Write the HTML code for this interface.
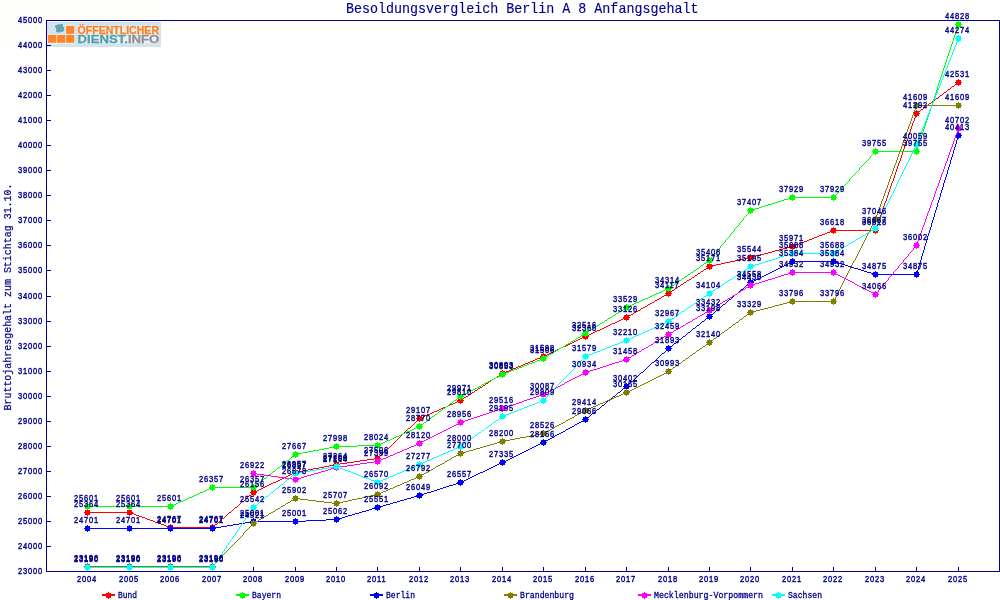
<!DOCTYPE html>
<html lang="de"><head><meta charset="utf-8"><title>Besoldungsvergleich Berlin A 8 Anfangsgehalt</title><style>
html,body{margin:0;padding:0;background:#fff;}
body{width:1000px;height:600px;overflow:hidden;}
svg{display:block;}
text{font-family:"Liberation Mono","DejaVu Sans Mono",monospace;fill:#00008b;}
.n{font-family:"Liberation Sans","DejaVu Sans",sans-serif;font-size:8.7px;letter-spacing:0.975px;stroke:#00008b;stroke-width:.42px;}
.l{font-size:8.9px;stroke:#00008b;stroke-width:.3px;}
.ti{font-size:15px;stroke:#00008b;stroke-width:.15px;}
.yt{font-size:11.5px;stroke:#00008b;stroke-width:.25px;}
.lg{font-family:"Liberation Sans","DejaVu Sans",sans-serif;font-weight:bold;font-size:10.7px;stroke-width:.25px;}
</style></head><body>
<svg width="1000" height="600" viewBox="0 0 1000 600">
<rect width="1000" height="600" fill="#fff"/>
<rect x="0" y="0" width="161" height="47" fill="#fdfdfb"/>
<text id="title" x="346" y="13" class="ti" textLength="352.5" lengthAdjust="spacingAndGlyphs">Besoldungsvergleich Berlin A 8 Anfangsgehalt</text>
<text id="ytitle" transform="translate(11.2,410.5) rotate(-90)" class="yt" textLength="227" lengthAdjust="spacingAndGlyphs">Bruttojahresgehalt zum Stichtag 31.10.</text>
<g id="logo">
<rect x="47" y="22" width="114" height="25" fill="#d5e3eb"/>
<path d="M65.4 25.4h9.6v18.8h-27.6v-9.8h18z" fill="#eaf2f7"/>
<rect x="48.1" y="35" width="8.2" height="7.8" fill="#ff8427"/>
<rect x="57.1" y="35" width="8.2" height="7.8" fill="#ff8427"/>
<rect x="66.1" y="35" width="8.2" height="7.8" fill="#ff8427"/>
<rect x="66.1" y="26" width="8.2" height="7.8" fill="#ff8427"/>
<path d="M55.1 25.2 L58.7 24.3 L62 24 L62.6 23.3 L63.2 26.7 L64.1 27.3 L64.4 30.9 L63.2 31.5 L59.9 32.6 L56.9 32.6 L56 31.2 L56 27.9 L55 27.3z" fill="#62a8b4" stroke="#eef5f8" stroke-width="0.7" paint-order="stroke"/>
<g aria-hidden="true" style="fill:none;stroke:#e9f1f6;stroke-width:1.8px;stroke-linejoin:round"><path d="M78 27.5h80M78 30h80M78 32.5h80M78 37h80M78 39.5h80M78 42h80" stroke-width="2.6"/></g>
<text x="77.6" y="33.8" class="lg" style="fill:#ff7f1f;stroke:#ff7f1f" textLength="81.4" lengthAdjust="spacingAndGlyphs">ÖFFENTLICHER</text>
<text x="77.6" y="43" class="lg" textLength="81.6" lengthAdjust="spacingAndGlyphs"><tspan style="fill:#4d9eab;stroke:#4d9eab">DIENST</tspan><tspan style="fill:#8e9197;stroke:#8e9197">.INFO</tspan></text>
</g>
<g shape-rendering="crispEdges" fill="none" stroke="#00008b" stroke-width="1">
<rect x="46.5" y="20.5" width="953" height="551"/>
<path d="M47 571.5h4 M47 546.5h4 M47 521.5h4 M47 496.5h4 M47 471.5h4 M47 446.5h4 M47 421.5h4 M47 396.5h4 M47 371.5h4 M47 346.5h4 M47 321.5h4 M47 296.5h4 M47 270.5h4 M47 245.5h4 M47 220.5h4 M47 195.5h4 M47 170.5h4 M47 145.5h4 M47 120.5h4 M47 95.5h4 M47 70.5h4 M47 45.5h4 M47 20.5h4 M87.5 571v-4 M129.5 571v-4 M170.5 571v-4 M212.5 571v-4 M253.5 571v-4 M295.5 571v-4 M336.5 571v-4 M377.5 571v-4 M419.5 571v-4 M460.5 571v-4 M502.5 571v-4 M543.5 571v-4 M585.5 571v-4 M626.5 571v-4 M668.5 571v-4 M709.5 571v-4 M750.5 571v-4 M792.5 571v-4 M833.5 571v-4 M875.5 571v-4 M916.5 571v-4 M958.5 571v-4"/>
</g>
<text transform="translate(18.1,574) scale(0.86,1)" class="n">23000</text>
<text transform="translate(18.1,549) scale(0.86,1)" class="n">24000</text>
<text transform="translate(18.1,524) scale(0.86,1)" class="n">25000</text>
<text transform="translate(18.1,499) scale(0.86,1)" class="n">26000</text>
<text transform="translate(18.1,474) scale(0.86,1)" class="n">27000</text>
<text transform="translate(18.1,449) scale(0.86,1)" class="n">28000</text>
<text transform="translate(18.1,424) scale(0.86,1)" class="n">29000</text>
<text transform="translate(18.1,399) scale(0.86,1)" class="n">30000</text>
<text transform="translate(18.1,374) scale(0.86,1)" class="n">31000</text>
<text transform="translate(18.1,349) scale(0.86,1)" class="n">32000</text>
<text transform="translate(18.1,324) scale(0.86,1)" class="n">33000</text>
<text transform="translate(18.1,299) scale(0.86,1)" class="n">34000</text>
<text transform="translate(18.1,273) scale(0.86,1)" class="n">35000</text>
<text transform="translate(18.1,248) scale(0.86,1)" class="n">36000</text>
<text transform="translate(18.1,223) scale(0.86,1)" class="n">37000</text>
<text transform="translate(18.1,198) scale(0.86,1)" class="n">38000</text>
<text transform="translate(18.1,173) scale(0.86,1)" class="n">39000</text>
<text transform="translate(18.1,148) scale(0.86,1)" class="n">40000</text>
<text transform="translate(18.1,123) scale(0.86,1)" class="n">41000</text>
<text transform="translate(18.1,98) scale(0.86,1)" class="n">42000</text>
<text transform="translate(18.1,73) scale(0.86,1)" class="n">43000</text>
<text transform="translate(18.1,48) scale(0.86,1)" class="n">44000</text>
<text transform="translate(18.1,23) scale(0.86,1)" class="n">45000</text>
<text transform="translate(77.1,582) scale(0.86,1)" class="n">2004</text>
<text transform="translate(119.1,582) scale(0.86,1)" class="n">2005</text>
<text transform="translate(160.1,582) scale(0.86,1)" class="n">2006</text>
<text transform="translate(202.1,582) scale(0.86,1)" class="n">2007</text>
<text transform="translate(243.1,582) scale(0.86,1)" class="n">2008</text>
<text transform="translate(285.1,582) scale(0.86,1)" class="n">2009</text>
<text transform="translate(326.1,582) scale(0.86,1)" class="n">2010</text>
<text transform="translate(367.1,582) scale(0.86,1)" class="n">2011</text>
<text transform="translate(409.1,582) scale(0.86,1)" class="n">2012</text>
<text transform="translate(450.1,582) scale(0.86,1)" class="n">2013</text>
<text transform="translate(492.1,582) scale(0.86,1)" class="n">2014</text>
<text transform="translate(533.1,582) scale(0.86,1)" class="n">2015</text>
<text transform="translate(575.1,582) scale(0.86,1)" class="n">2016</text>
<text transform="translate(616.1,582) scale(0.86,1)" class="n">2017</text>
<text transform="translate(658.1,582) scale(0.86,1)" class="n">2018</text>
<text transform="translate(699.1,582) scale(0.86,1)" class="n">2019</text>
<text transform="translate(740.1,582) scale(0.86,1)" class="n">2020</text>
<text transform="translate(782.1,582) scale(0.86,1)" class="n">2021</text>
<text transform="translate(823.1,582) scale(0.86,1)" class="n">2022</text>
<text transform="translate(865.1,582) scale(0.86,1)" class="n">2023</text>
<text transform="translate(906.1,582) scale(0.86,1)" class="n">2024</text>
<text transform="translate(948.1,582) scale(0.86,1)" class="n">2025</text>
<g shape-rendering="crispEdges">
<path fill="none" stroke="#ff0000" stroke-width="1" d="M87 512.5h43M129 512.5h2M131 513.5h3M134 514.5h2M136 515.5h3M139 516.5h3M142 517.5h3M145 518.5h2M147 519.5h3M150 520.5h3M153 521.5h2M155 522.5h3M158 523.5h3M161 524.5h3M164 525.5h2M166 526.5h3M169 527.5h2M170 527.5h43M212 527.5h1M213 526.5h1M214 525.5h1M215 524.5h2M217 523.5h1M218 522.5h1M219 521.5h1M220 520.5h1M221 519.5h1M222 518.5h2M224 517.5h1M225 516.5h1M226 515.5h1M227 514.5h1M228 513.5h1M229 512.5h2M231 511.5h1M232 510.5h1M233 509.5h1M234 508.5h1M235 507.5h2M237 506.5h1M238 505.5h1M239 504.5h1M240 503.5h1M241 502.5h1M242 501.5h2M244 500.5h1M245 499.5h1M246 498.5h1M247 497.5h1M248 496.5h1M249 495.5h2M251 494.5h1M252 493.5h1M253 492.5h1M253 492.5h2M255 491.5h2M257 490.5h2M259 489.5h2M261 488.5h2M263 487.5h2M265 486.5h2M267 485.5h2M269 484.5h2M271 483.5h2M273 482.5h3M276 481.5h2M278 480.5h2M280 479.5h2M282 478.5h2M284 477.5h2M286 476.5h2M288 475.5h2M290 474.5h2M292 473.5h2M294 472.5h2M295 472.5h3M298 471.5h5M303 470.5h5M308 469.5h5M313 468.5h6M319 467.5h5M324 466.5h5M329 465.5h5M334 464.5h3M336 464.5h4M340 463.5h7M347 462.5h7M354 461.5h6M360 460.5h7M367 459.5h7M374 458.5h4M377 458.5h1M378 457.5h1M379 456.5h1M380 455.5h1M381 454.5h1M382 453.5h1M383 452.5h1M384 451.5h1M385 450.5h1M386 449.5h1M387 448.5h2M389 447.5h1M390 446.5h1M391 445.5h1M392 444.5h1M393 443.5h1M394 442.5h1M395 441.5h1M396 440.5h1M397 439.5h1M398 438.5h1M399 437.5h1M400 436.5h1M401 435.5h1M402 434.5h1M403 433.5h1M404 432.5h1M405 431.5h1M406 430.5h1M407 429.5h1M408 428.5h2M410 427.5h1M411 426.5h1M412 425.5h1M413 424.5h1M414 423.5h1M415 422.5h1M416 421.5h1M417 420.5h1M418 419.5h1M419 418.5h1M419 418.5h2M421 417.5h2M423 416.5h2M425 415.5h2M427 414.5h3M430 413.5h2M432 412.5h2M434 411.5h3M437 410.5h2M439 409.5h2M441 408.5h2M443 407.5h3M446 406.5h2M448 405.5h2M450 404.5h3M453 403.5h2M455 402.5h2M457 401.5h2M459 400.5h2M460 400.5h1M461 399.5h2M463 398.5h1M464 397.5h2M466 396.5h2M468 395.5h1M469 394.5h2M471 393.5h1M472 392.5h2M474 391.5h1M475 390.5h2M477 389.5h1M478 388.5h2M480 387.5h2M482 386.5h1M483 385.5h2M485 384.5h1M486 383.5h2M488 382.5h1M489 381.5h2M491 380.5h1M492 379.5h2M494 378.5h2M496 377.5h1M497 376.5h2M499 375.5h1M500 374.5h2M502 373.5h1M502 373.5h2M504 372.5h2M506 371.5h3M509 370.5h2M511 369.5h2M513 368.5h3M516 367.5h2M518 366.5h3M521 365.5h2M523 364.5h2M525 363.5h3M528 362.5h2M530 361.5h3M533 360.5h2M535 359.5h2M537 358.5h3M540 357.5h2M542 356.5h2M543 356.5h2M545 355.5h2M547 354.5h2M549 353.5h2M551 352.5h2M553 351.5h2M555 350.5h2M557 349.5h2M559 348.5h2M561 347.5h2M563 346.5h3M566 345.5h2M568 344.5h2M570 343.5h2M572 342.5h2M574 341.5h2M576 340.5h2M578 339.5h2M580 338.5h2M582 337.5h2M584 336.5h2M585 336.5h2M587 335.5h2M589 334.5h2M591 333.5h2M593 332.5h2M595 331.5h2M597 330.5h3M600 329.5h2M602 328.5h2M604 327.5h2M606 326.5h2M608 325.5h2M610 324.5h2M612 323.5h3M615 322.5h2M617 321.5h2M619 320.5h2M621 319.5h2M623 318.5h2M625 317.5h2M626 317.5h1M627 316.5h2M629 315.5h2M631 314.5h2M633 313.5h1M634 312.5h2M636 311.5h2M638 310.5h2M640 309.5h1M641 308.5h2M643 307.5h2M645 306.5h2M647 305.5h1M648 304.5h2M650 303.5h2M652 302.5h2M654 301.5h1M655 300.5h2M657 299.5h2M659 298.5h2M661 297.5h1M662 296.5h2M664 295.5h2M666 294.5h2M668 293.5h1M668 293.5h1M669 292.5h2M671 291.5h1M672 290.5h2M674 289.5h1M675 288.5h2M677 287.5h1M678 286.5h2M680 285.5h1M681 284.5h2M683 283.5h1M684 282.5h2M686 281.5h1M687 280.5h2M689 279.5h2M691 278.5h1M692 277.5h2M694 276.5h1M695 275.5h2M697 274.5h1M698 273.5h2M700 272.5h1M701 271.5h2M703 270.5h1M704 269.5h2M706 268.5h1M707 267.5h2M709 266.5h1M709 266.5h3M712 265.5h4M716 264.5h5M721 263.5h4M725 262.5h5M730 261.5h5M735 260.5h4M739 259.5h5M744 258.5h4M748 257.5h3M750 257.5h2M752 256.5h4M756 255.5h4M760 254.5h4M764 253.5h4M768 252.5h4M772 251.5h3M775 250.5h4M779 249.5h4M783 248.5h4M787 247.5h4M791 246.5h2M792 246.5h2M794 245.5h2M796 244.5h3M799 243.5h2M801 242.5h3M804 241.5h3M807 240.5h2M809 239.5h3M812 238.5h2M814 237.5h3M817 236.5h2M819 235.5h3M822 234.5h3M825 233.5h2M827 232.5h3M830 231.5h2M832 230.5h2M833 230.5h43M916.5 113v2M915.5 115v3M914.5 118v3M913.5 121v2M912.5 123v3M911.5 126v3M910.5 129v3M909.5 132v3M908.5 135v3M907.5 138v3M906.5 141v2M905.5 143v3M904.5 146v3M903.5 149v3M902.5 152v3M901.5 155v3M900.5 158v3M899.5 161v2M898.5 163v3M897.5 166v3M896.5 169v3M895.5 172v3M894.5 175v3M893.5 178v3M892.5 181v2M891.5 183v3M890.5 186v3M889.5 189v3M888.5 192v3M887.5 195v3M886.5 198v3M885.5 201v2M884.5 203v3M883.5 206v3M882.5 209v3M881.5 212v3M880.5 215v3M879.5 218v3M878.5 221v2M877.5 223v3M876.5 226v3M875.5 229v2M916 113.5h1M917 112.5h2M919 111.5h1M920 110.5h1M921 109.5h2M923 108.5h1M924 107.5h1M925 106.5h2M927 105.5h1M928 104.5h1M929 103.5h2M931 102.5h1M932 101.5h1M933 100.5h2M935 99.5h1M936 98.5h2M938 97.5h1M939 96.5h1M940 95.5h2M942 94.5h1M943 93.5h1M944 92.5h2M946 91.5h1M947 90.5h1M948 89.5h2M950 88.5h1M951 87.5h1M952 86.5h2M954 85.5h1M955 84.5h1M956 83.5h2M958 82.5h1"/>
<path fill="#ff0000" d="M85 510h2v-1h1v1h2v2h1v1h-1v2h-2v1h-1v-1h-2v-2h-1v-1h1z M127 510h2v-1h1v1h2v2h1v1h-1v2h-2v1h-1v-1h-2v-2h-1v-1h1z M168 525h2v-1h1v1h2v2h1v1h-1v2h-2v1h-1v-1h-2v-2h-1v-1h1z M210 525h2v-1h1v1h2v2h1v1h-1v2h-2v1h-1v-1h-2v-2h-1v-1h1z M251 490h2v-1h1v1h2v2h1v1h-1v2h-2v1h-1v-1h-2v-2h-1v-1h1z M293 470h2v-1h1v1h2v2h1v1h-1v2h-2v1h-1v-1h-2v-2h-1v-1h1z M334 462h2v-1h1v1h2v2h1v1h-1v2h-2v1h-1v-1h-2v-2h-1v-1h1z M375 456h2v-1h1v1h2v2h1v1h-1v2h-2v1h-1v-1h-2v-2h-1v-1h1z M417 416h2v-1h1v1h2v2h1v1h-1v2h-2v1h-1v-1h-2v-2h-1v-1h1z M458 398h2v-1h1v1h2v2h1v1h-1v2h-2v1h-1v-1h-2v-2h-1v-1h1z M500 371h2v-1h1v1h2v2h1v1h-1v2h-2v1h-1v-1h-2v-2h-1v-1h1z M541 354h2v-1h1v1h2v2h1v1h-1v2h-2v1h-1v-1h-2v-2h-1v-1h1z M583 334h2v-1h1v1h2v2h1v1h-1v2h-2v1h-1v-1h-2v-2h-1v-1h1z M624 315h2v-1h1v1h2v2h1v1h-1v2h-2v1h-1v-1h-2v-2h-1v-1h1z M666 291h2v-1h1v1h2v2h1v1h-1v2h-2v1h-1v-1h-2v-2h-1v-1h1z M707 264h2v-1h1v1h2v2h1v1h-1v2h-2v1h-1v-1h-2v-2h-1v-1h1z M748 255h2v-1h1v1h2v2h1v1h-1v2h-2v1h-1v-1h-2v-2h-1v-1h1z M790 244h2v-1h1v1h2v2h1v1h-1v2h-2v1h-1v-1h-2v-2h-1v-1h1z M831 228h2v-1h1v1h2v2h1v1h-1v2h-2v1h-1v-1h-2v-2h-1v-1h1z M873 228h2v-1h1v1h2v2h1v1h-1v2h-2v1h-1v-1h-2v-2h-1v-1h1z M914 111h2v-1h1v1h2v2h1v1h-1v2h-2v1h-1v-1h-2v-2h-1v-1h1z M956 80h2v-1h1v1h2v2h1v1h-1v2h-2v1h-1v-1h-2v-2h-1v-1h1z"/>
</g>
<g shape-rendering="crispEdges">
<path fill="none" stroke="#00ff00" stroke-width="1" d="M87 506.5h43M129 506.5h42M170 506.5h2M172 505.5h2M174 504.5h2M176 503.5h2M178 502.5h2M180 501.5h3M183 500.5h2M185 499.5h2M187 498.5h2M189 497.5h3M192 496.5h2M194 495.5h2M196 494.5h2M198 493.5h2M200 492.5h3M203 491.5h2M205 490.5h2M207 489.5h2M209 488.5h2M211 487.5h2M212 487.5h42M253 487.5h1M254 486.5h1M255 485.5h2M257 484.5h1M258 483.5h1M259 482.5h2M261 481.5h1M262 480.5h1M263 479.5h1M264 478.5h2M266 477.5h1M267 476.5h1M268 475.5h1M269 474.5h2M271 473.5h1M272 472.5h1M273 471.5h2M275 470.5h1M276 469.5h1M277 468.5h1M278 467.5h2M280 466.5h1M281 465.5h1M282 464.5h1M283 463.5h2M285 462.5h1M286 461.5h1M287 460.5h2M289 459.5h1M290 458.5h1M291 457.5h1M292 456.5h2M294 455.5h1M295 454.5h1M295 454.5h3M298 453.5h5M303 452.5h5M308 451.5h5M313 450.5h6M319 449.5h5M324 448.5h5M329 447.5h5M334 446.5h3M336 446.5h21M357 445.5h21M377 445.5h2M379 444.5h2M381 443.5h2M383 442.5h2M385 441.5h2M387 440.5h3M390 439.5h2M392 438.5h2M394 437.5h2M396 436.5h3M399 435.5h2M401 434.5h2M403 433.5h2M405 432.5h2M407 431.5h3M410 430.5h2M412 429.5h2M414 428.5h2M416 427.5h2M418 426.5h2M419 426.5h1M420 425.5h2M422 424.5h1M423 423.5h1M424 422.5h2M426 421.5h1M427 420.5h1M428 419.5h2M430 418.5h1M431 417.5h1M432 416.5h2M434 415.5h1M435 414.5h2M437 413.5h1M438 412.5h1M439 411.5h2M441 410.5h1M442 409.5h1M443 408.5h2M445 407.5h1M446 406.5h2M448 405.5h1M449 404.5h1M450 403.5h2M452 402.5h1M453 401.5h1M454 400.5h2M456 399.5h1M457 398.5h1M458 397.5h2M460 396.5h1M460 396.5h1M461 395.5h2M463 394.5h2M465 393.5h2M467 392.5h2M469 391.5h2M471 390.5h2M473 389.5h2M475 388.5h2M477 387.5h2M479 386.5h2M481 385.5h1M482 384.5h2M484 383.5h2M486 382.5h2M488 381.5h2M490 380.5h2M492 379.5h2M494 378.5h2M496 377.5h2M498 376.5h2M500 375.5h2M502 374.5h1M502 374.5h2M504 373.5h2M506 372.5h3M509 371.5h2M511 370.5h3M514 369.5h3M517 368.5h2M519 367.5h3M522 366.5h2M524 365.5h3M527 364.5h2M529 363.5h3M532 362.5h3M535 361.5h2M537 360.5h3M540 359.5h2M542 358.5h2M543 358.5h1M544 357.5h2M546 356.5h2M548 355.5h1M549 354.5h2M551 353.5h2M553 352.5h1M554 351.5h2M556 350.5h2M558 349.5h1M559 348.5h2M561 347.5h2M563 346.5h2M565 345.5h1M566 344.5h2M568 343.5h2M570 342.5h1M571 341.5h2M573 340.5h2M575 339.5h1M576 338.5h2M578 337.5h2M580 336.5h1M581 335.5h2M583 334.5h2M585 333.5h1M585 333.5h1M586 332.5h2M588 331.5h1M589 330.5h2M591 329.5h2M593 328.5h1M594 327.5h2M596 326.5h1M597 325.5h2M599 324.5h1M600 323.5h2M602 322.5h2M604 321.5h1M605 320.5h2M607 319.5h1M608 318.5h2M610 317.5h2M612 316.5h1M613 315.5h2M615 314.5h1M616 313.5h2M618 312.5h1M619 311.5h2M621 310.5h2M623 309.5h1M624 308.5h2M626 307.5h1M626 307.5h2M628 306.5h2M630 305.5h2M632 304.5h2M634 303.5h2M636 302.5h3M639 301.5h2M641 300.5h2M643 299.5h2M645 298.5h3M648 297.5h2M650 296.5h2M652 295.5h2M654 294.5h2M656 293.5h3M659 292.5h2M661 291.5h2M663 290.5h2M665 289.5h2M667 288.5h2M668 288.5h1M669 287.5h2M671 286.5h1M672 285.5h2M674 284.5h1M675 283.5h2M677 282.5h1M678 281.5h1M679 280.5h2M681 279.5h1M682 278.5h2M684 277.5h1M685 276.5h2M687 275.5h1M688 274.5h2M690 273.5h1M691 272.5h2M693 271.5h1M694 270.5h2M696 269.5h1M697 268.5h2M699 267.5h1M700 266.5h1M701 265.5h2M703 264.5h1M704 263.5h2M706 262.5h1M707 261.5h2M709 260.5h1M750.5 210v1M749.5 211v1M748.5 212v2M747.5 214v1M746.5 215v1M745.5 216v1M744.5 217v1M743.5 218v2M742.5 220v1M741.5 221v1M740.5 222v1M739.5 223v2M738.5 225v1M737.5 226v1M736.5 227v1M735.5 228v1M734.5 229v2M733.5 231v1M732.5 232v1M731.5 233v1M730.5 234v2M729.5 236v1M728.5 237v1M727.5 238v1M726.5 239v1M725.5 240v2M724.5 242v1M723.5 243v1M722.5 244v1M721.5 245v1M720.5 246v2M719.5 248v1M718.5 249v1M717.5 250v1M716.5 251v2M715.5 253v1M714.5 254v1M713.5 255v1M712.5 256v1M711.5 257v2M710.5 259v1M709.5 260v1M750 210.5h2M752 209.5h3M755 208.5h4M759 207.5h3M762 206.5h3M765 205.5h3M768 204.5h4M772 203.5h3M775 202.5h3M778 201.5h3M781 200.5h3M784 199.5h4M788 198.5h3M791 197.5h2M792 197.5h42M875.5 151v1M874.5 152v1M873.5 153v1M872.5 154v1M871.5 155v1M870.5 156v2M869.5 158v1M868.5 159v1M867.5 160v1M866.5 161v1M865.5 162v1M864.5 163v1M863.5 164v1M862.5 165v1M861.5 166v1M860.5 167v1M859.5 168v2M858.5 170v1M857.5 171v1M856.5 172v1M855.5 173v1M854.5 174v1M853.5 175v1M852.5 176v1M851.5 177v1M850.5 178v1M849.5 179v2M848.5 181v1M847.5 182v1M846.5 183v1M845.5 184v1M844.5 185v1M843.5 186v1M842.5 187v1M841.5 188v1M840.5 189v1M839.5 190v1M838.5 191v2M837.5 193v1M836.5 194v1M835.5 195v1M834.5 196v1M833.5 197v1M875 151.5h42M958.5 24v2M957.5 26v3M956.5 29v3M955.5 32v3M954.5 35v3M953.5 38v3M952.5 41v3M951.5 44v3M950.5 47v3M949.5 50v3M948.5 53v3M947.5 56v3M946.5 59v3M945.5 62v3M944.5 65v3M943.5 68v3M942.5 71v3M941.5 74v3M940.5 77v3M939.5 80v3M938.5 83v3M937.5 86v4M936.5 90v3M935.5 93v3M934.5 96v3M933.5 99v3M932.5 102v3M931.5 105v3M930.5 108v3M929.5 111v3M928.5 114v3M927.5 117v3M926.5 120v3M925.5 123v3M924.5 126v3M923.5 129v3M922.5 132v3M921.5 135v3M920.5 138v3M919.5 141v3M918.5 144v3M917.5 147v3M916.5 150v2"/>
<path fill="#00ff00" d="M85 504h2v-1h1v1h2v2h1v1h-1v2h-2v1h-1v-1h-2v-2h-1v-1h1z M127 504h2v-1h1v1h2v2h1v1h-1v2h-2v1h-1v-1h-2v-2h-1v-1h1z M168 504h2v-1h1v1h2v2h1v1h-1v2h-2v1h-1v-1h-2v-2h-1v-1h1z M210 485h2v-1h1v1h2v2h1v1h-1v2h-2v1h-1v-1h-2v-2h-1v-1h1z M251 485h2v-1h1v1h2v2h1v1h-1v2h-2v1h-1v-1h-2v-2h-1v-1h1z M293 452h2v-1h1v1h2v2h1v1h-1v2h-2v1h-1v-1h-2v-2h-1v-1h1z M334 444h2v-1h1v1h2v2h1v1h-1v2h-2v1h-1v-1h-2v-2h-1v-1h1z M375 443h2v-1h1v1h2v2h1v1h-1v2h-2v1h-1v-1h-2v-2h-1v-1h1z M417 424h2v-1h1v1h2v2h1v1h-1v2h-2v1h-1v-1h-2v-2h-1v-1h1z M458 394h2v-1h1v1h2v2h1v1h-1v2h-2v1h-1v-1h-2v-2h-1v-1h1z M500 372h2v-1h1v1h2v2h1v1h-1v2h-2v1h-1v-1h-2v-2h-1v-1h1z M541 356h2v-1h1v1h2v2h1v1h-1v2h-2v1h-1v-1h-2v-2h-1v-1h1z M583 331h2v-1h1v1h2v2h1v1h-1v2h-2v1h-1v-1h-2v-2h-1v-1h1z M624 305h2v-1h1v1h2v2h1v1h-1v2h-2v1h-1v-1h-2v-2h-1v-1h1z M666 286h2v-1h1v1h2v2h1v1h-1v2h-2v1h-1v-1h-2v-2h-1v-1h1z M707 258h2v-1h1v1h2v2h1v1h-1v2h-2v1h-1v-1h-2v-2h-1v-1h1z M748 208h2v-1h1v1h2v2h1v1h-1v2h-2v1h-1v-1h-2v-2h-1v-1h1z M790 195h2v-1h1v1h2v2h1v1h-1v2h-2v1h-1v-1h-2v-2h-1v-1h1z M831 195h2v-1h1v1h2v2h1v1h-1v2h-2v1h-1v-1h-2v-2h-1v-1h1z M873 149h2v-1h1v1h2v2h1v1h-1v2h-2v1h-1v-1h-2v-2h-1v-1h1z M914 149h2v-1h1v1h2v2h1v1h-1v2h-2v1h-1v-1h-2v-2h-1v-1h1z M956 22h2v-1h1v1h2v2h1v1h-1v2h-2v1h-1v-1h-2v-2h-1v-1h1z"/>
</g>
<g shape-rendering="crispEdges">
<path fill="none" stroke="#0000ff" stroke-width="1" d="M87 528.5h43M129 528.5h42M170 528.5h43M212 528.5h3M215 527.5h6M221 526.5h6M227 525.5h6M233 524.5h6M239 523.5h6M245 522.5h6M251 521.5h3M253 521.5h43M295 521.5h11M306 520.5h20M326 519.5h11M336 519.5h2M338 518.5h4M342 517.5h3M345 516.5h3M348 515.5h4M352 514.5h3M355 513.5h4M359 512.5h3M362 511.5h4M366 510.5h3M369 509.5h3M372 508.5h4M376 507.5h2M377 507.5h2M379 506.5h4M383 505.5h3M386 504.5h4M390 503.5h3M393 502.5h4M397 501.5h3M400 500.5h4M404 499.5h3M407 498.5h4M411 497.5h3M414 496.5h4M418 495.5h2M419 495.5h2M421 494.5h3M424 493.5h3M427 492.5h4M431 491.5h3M434 490.5h3M437 489.5h3M440 488.5h3M443 487.5h3M446 486.5h3M449 485.5h4M453 484.5h3M456 483.5h3M459 482.5h2M460 482.5h2M462 481.5h2M464 480.5h2M466 479.5h2M468 478.5h2M470 477.5h2M472 476.5h2M474 475.5h2M476 474.5h2M478 473.5h2M480 472.5h3M483 471.5h2M485 470.5h2M487 469.5h2M489 468.5h2M491 467.5h2M493 466.5h2M495 465.5h2M497 464.5h2M499 463.5h2M501 462.5h2M502 462.5h2M504 461.5h2M506 460.5h2M508 459.5h2M510 458.5h2M512 457.5h2M514 456.5h2M516 455.5h2M518 454.5h2M520 453.5h2M522 452.5h2M524 451.5h2M526 450.5h2M528 449.5h2M530 448.5h2M532 447.5h2M534 446.5h2M536 445.5h2M538 444.5h2M540 443.5h2M542 442.5h2M543 442.5h1M544 441.5h2M546 440.5h2M548 439.5h2M550 438.5h2M552 437.5h2M554 436.5h1M555 435.5h2M557 434.5h2M559 433.5h2M561 432.5h2M563 431.5h2M565 430.5h1M566 429.5h2M568 428.5h2M570 427.5h2M572 426.5h2M574 425.5h1M575 424.5h2M577 423.5h2M579 422.5h2M581 421.5h2M583 420.5h2M585 419.5h1M585 419.5h1M586 418.5h1M587 417.5h2M589 416.5h1M590 415.5h1M591 414.5h1M592 413.5h2M594 412.5h1M595 411.5h1M596 410.5h1M597 409.5h2M599 408.5h1M600 407.5h1M601 406.5h1M602 405.5h2M604 404.5h1M605 403.5h1M606 402.5h1M607 401.5h1M608 400.5h2M610 399.5h1M611 398.5h1M612 397.5h1M613 396.5h2M615 395.5h1M616 394.5h1M617 393.5h1M618 392.5h2M620 391.5h1M621 390.5h1M622 389.5h1M623 388.5h2M625 387.5h1M626 386.5h1M626 386.5h1M627 385.5h1M628 384.5h1M629 383.5h1M630 382.5h1M631 381.5h2M633 380.5h1M634 379.5h1M635 378.5h1M636 377.5h1M637 376.5h1M638 375.5h1M639 374.5h1M640 373.5h1M641 372.5h2M643 371.5h1M644 370.5h1M645 369.5h1M646 368.5h1M647 367.5h1M648 366.5h1M649 365.5h1M650 364.5h1M651 363.5h1M652 362.5h2M654 361.5h1M655 360.5h1M656 359.5h1M657 358.5h1M658 357.5h1M659 356.5h1M660 355.5h1M661 354.5h1M662 353.5h2M664 352.5h1M665 351.5h1M666 350.5h1M667 349.5h1M668 348.5h1M668 348.5h1M669 347.5h1M670 346.5h2M672 345.5h1M673 344.5h1M674 343.5h2M676 342.5h1M677 341.5h1M678 340.5h1M679 339.5h2M681 338.5h1M682 337.5h1M683 336.5h2M685 335.5h1M686 334.5h1M687 333.5h1M688 332.5h2M690 331.5h1M691 330.5h1M692 329.5h1M693 328.5h2M695 327.5h1M696 326.5h1M697 325.5h2M699 324.5h1M700 323.5h1M701 322.5h1M702 321.5h2M704 320.5h1M705 319.5h1M706 318.5h2M708 317.5h1M709 316.5h1M709 316.5h1M710 315.5h1M711 314.5h2M713 313.5h1M714 312.5h1M715 311.5h1M716 310.5h1M717 309.5h2M719 308.5h1M720 307.5h1M721 306.5h1M722 305.5h1M723 304.5h2M725 303.5h1M726 302.5h1M727 301.5h1M728 300.5h1M729 299.5h2M731 298.5h1M732 297.5h1M733 296.5h1M734 295.5h1M735 294.5h2M737 293.5h1M738 292.5h1M739 291.5h1M740 290.5h1M741 289.5h2M743 288.5h1M744 287.5h1M745 286.5h1M746 285.5h1M747 284.5h2M749 283.5h1M750 282.5h1M750 282.5h2M752 281.5h2M754 280.5h2M756 279.5h2M758 278.5h2M760 277.5h2M762 276.5h2M764 275.5h2M766 274.5h2M768 273.5h2M770 272.5h2M772 271.5h2M774 270.5h2M776 269.5h2M778 268.5h2M780 267.5h2M782 266.5h2M784 265.5h2M786 264.5h2M788 263.5h2M790 262.5h2M792 261.5h1M792 261.5h42M833 261.5h2M835 262.5h3M838 263.5h4M842 264.5h3M845 265.5h3M848 266.5h3M851 267.5h3M854 268.5h4M858 269.5h3M861 270.5h3M864 271.5h3M867 272.5h4M871 273.5h3M874 274.5h2M875 274.5h42M958.5 135v2M957.5 137v3M956.5 140v4M955.5 144v3M954.5 147v3M953.5 150v4M952.5 154v3M951.5 157v3M950.5 160v4M949.5 164v3M948.5 167v3M947.5 170v4M946.5 174v3M945.5 177v3M944.5 180v3M943.5 183v4M942.5 187v3M941.5 190v3M940.5 193v4M939.5 197v3M938.5 200v3M937.5 203v4M936.5 207v3M935.5 210v3M934.5 213v4M933.5 217v3M932.5 220v3M931.5 223v4M930.5 227v3M929.5 230v3M928.5 233v3M927.5 236v4M926.5 240v3M925.5 243v3M924.5 246v4M923.5 250v3M922.5 253v3M921.5 256v4M920.5 260v3M919.5 263v3M918.5 266v4M917.5 270v3M916.5 273v2"/>
<path fill="#0000ff" d="M85 526h2v-1h1v1h2v2h1v1h-1v2h-2v1h-1v-1h-2v-2h-1v-1h1z M127 526h2v-1h1v1h2v2h1v1h-1v2h-2v1h-1v-1h-2v-2h-1v-1h1z M168 526h2v-1h1v1h2v2h1v1h-1v2h-2v1h-1v-1h-2v-2h-1v-1h1z M210 526h2v-1h1v1h2v2h1v1h-1v2h-2v1h-1v-1h-2v-2h-1v-1h1z M251 519h2v-1h1v1h2v2h1v1h-1v2h-2v1h-1v-1h-2v-2h-1v-1h1z M293 519h2v-1h1v1h2v2h1v1h-1v2h-2v1h-1v-1h-2v-2h-1v-1h1z M334 517h2v-1h1v1h2v2h1v1h-1v2h-2v1h-1v-1h-2v-2h-1v-1h1z M375 505h2v-1h1v1h2v2h1v1h-1v2h-2v1h-1v-1h-2v-2h-1v-1h1z M417 493h2v-1h1v1h2v2h1v1h-1v2h-2v1h-1v-1h-2v-2h-1v-1h1z M458 480h2v-1h1v1h2v2h1v1h-1v2h-2v1h-1v-1h-2v-2h-1v-1h1z M500 460h2v-1h1v1h2v2h1v1h-1v2h-2v1h-1v-1h-2v-2h-1v-1h1z M541 440h2v-1h1v1h2v2h1v1h-1v2h-2v1h-1v-1h-2v-2h-1v-1h1z M583 417h2v-1h1v1h2v2h1v1h-1v2h-2v1h-1v-1h-2v-2h-1v-1h1z M624 384h2v-1h1v1h2v2h1v1h-1v2h-2v1h-1v-1h-2v-2h-1v-1h1z M666 346h2v-1h1v1h2v2h1v1h-1v2h-2v1h-1v-1h-2v-2h-1v-1h1z M707 314h2v-1h1v1h2v2h1v1h-1v2h-2v1h-1v-1h-2v-2h-1v-1h1z M748 280h2v-1h1v1h2v2h1v1h-1v2h-2v1h-1v-1h-2v-2h-1v-1h1z M790 259h2v-1h1v1h2v2h1v1h-1v2h-2v1h-1v-1h-2v-2h-1v-1h1z M831 259h2v-1h1v1h2v2h1v1h-1v2h-2v1h-1v-1h-2v-2h-1v-1h1z M873 272h2v-1h1v1h2v2h1v1h-1v2h-2v1h-1v-1h-2v-2h-1v-1h1z M914 272h2v-1h1v1h2v2h1v1h-1v2h-2v1h-1v-1h-2v-2h-1v-1h1z M956 133h2v-1h1v1h2v2h1v1h-1v2h-2v1h-1v-1h-2v-2h-1v-1h1z"/>
</g>
<g shape-rendering="crispEdges">
<path fill="none" stroke="#808000" stroke-width="1" d="M87 566.5h43M129 566.5h42M170 566.5h43M253.5 523v1M252.5 524v1M251.5 525v1M250.5 526v1M249.5 527v1M248.5 528v1M247.5 529v1M246.5 530v1M245.5 531v1M244.5 532v1M243.5 533v2M242.5 535v1M241.5 536v1M240.5 537v1M239.5 538v1M238.5 539v1M237.5 540v1M236.5 541v1M235.5 542v1M234.5 543v1M233.5 544v1M232.5 545v1M231.5 546v1M230.5 547v1M229.5 548v1M228.5 549v1M227.5 550v1M226.5 551v1M225.5 552v1M224.5 553v1M223.5 554v1M222.5 555v2M221.5 557v1M220.5 558v1M219.5 559v1M218.5 560v1M217.5 561v1M216.5 562v1M215.5 563v1M214.5 564v1M213.5 565v1M212.5 566v1M253 523.5h1M254 522.5h2M256 521.5h2M258 520.5h1M259 519.5h2M261 518.5h2M263 517.5h1M264 516.5h2M266 515.5h2M268 514.5h1M269 513.5h2M271 512.5h2M273 511.5h2M275 510.5h1M276 509.5h2M278 508.5h2M280 507.5h1M281 506.5h2M283 505.5h2M285 504.5h1M286 503.5h2M288 502.5h2M290 501.5h1M291 500.5h2M293 499.5h2M295 498.5h1M295 498.5h5M300 499.5h8M308 500.5h8M316 501.5h8M324 502.5h8M332 503.5h5M336 503.5h3M339 502.5h4M343 501.5h5M348 500.5h4M352 499.5h5M357 498.5h5M362 497.5h4M366 496.5h5M371 495.5h4M375 494.5h3M377 494.5h2M379 493.5h2M381 492.5h2M383 491.5h3M386 490.5h2M388 489.5h2M390 488.5h3M393 487.5h2M395 486.5h2M397 485.5h3M400 484.5h2M402 483.5h2M404 482.5h3M407 481.5h2M409 480.5h2M411 479.5h3M414 478.5h2M416 477.5h2M418 476.5h2M419 476.5h1M420 475.5h2M422 474.5h2M424 473.5h2M426 472.5h2M428 471.5h1M429 470.5h2M431 469.5h2M433 468.5h2M435 467.5h1M436 466.5h2M438 465.5h2M440 464.5h2M442 463.5h2M444 462.5h1M445 461.5h2M447 460.5h2M449 459.5h2M451 458.5h1M452 457.5h2M454 456.5h2M456 455.5h2M458 454.5h2M460 453.5h1M460 453.5h2M462 452.5h4M466 451.5h3M469 450.5h4M473 449.5h3M476 448.5h4M480 447.5h3M483 446.5h4M487 445.5h3M490 444.5h4M494 443.5h3M497 442.5h4M501 441.5h2M502 441.5h3M505 440.5h5M510 439.5h5M515 438.5h5M520 437.5h6M526 436.5h5M531 435.5h5M536 434.5h5M541 433.5h3M543 433.5h1M544 432.5h2M546 431.5h2M548 430.5h2M550 429.5h2M552 428.5h2M554 427.5h1M555 426.5h2M557 425.5h2M559 424.5h2M561 423.5h2M563 422.5h2M565 421.5h1M566 420.5h2M568 419.5h2M570 418.5h2M572 417.5h2M574 416.5h1M575 415.5h2M577 414.5h2M579 413.5h2M581 412.5h2M583 411.5h2M585 410.5h1M585 410.5h2M587 409.5h2M589 408.5h2M591 407.5h2M593 406.5h3M596 405.5h2M598 404.5h2M600 403.5h3M603 402.5h2M605 401.5h2M607 400.5h2M609 399.5h3M612 398.5h2M614 397.5h2M616 396.5h3M619 395.5h2M621 394.5h2M623 393.5h2M625 392.5h2M626 392.5h2M628 391.5h2M630 390.5h2M632 389.5h2M634 388.5h2M636 387.5h2M638 386.5h2M640 385.5h2M642 384.5h2M644 383.5h2M646 382.5h2M648 381.5h2M650 380.5h2M652 379.5h2M654 378.5h2M656 377.5h2M658 376.5h2M660 375.5h2M662 374.5h2M664 373.5h2M666 372.5h2M668 371.5h1M668 371.5h1M669 370.5h2M671 369.5h1M672 368.5h1M673 367.5h2M675 366.5h1M676 365.5h2M678 364.5h1M679 363.5h2M681 362.5h1M682 361.5h1M683 360.5h2M685 359.5h1M686 358.5h2M688 357.5h1M689 356.5h1M690 355.5h2M692 354.5h1M693 353.5h2M695 352.5h1M696 351.5h1M697 350.5h2M699 349.5h1M700 348.5h2M702 347.5h1M703 346.5h2M705 345.5h1M706 344.5h1M707 343.5h2M709 342.5h1M709 342.5h1M710 341.5h2M712 340.5h1M713 339.5h1M714 338.5h2M716 337.5h1M717 336.5h1M718 335.5h2M720 334.5h1M721 333.5h1M722 332.5h2M724 331.5h1M725 330.5h2M727 329.5h1M728 328.5h1M729 327.5h2M731 326.5h1M732 325.5h1M733 324.5h2M735 323.5h1M736 322.5h2M738 321.5h1M739 320.5h1M740 319.5h2M742 318.5h1M743 317.5h1M744 316.5h2M746 315.5h1M747 314.5h1M748 313.5h2M750 312.5h1M750 312.5h2M752 311.5h4M756 310.5h4M760 309.5h4M764 308.5h4M768 307.5h4M772 306.5h3M775 305.5h4M779 304.5h4M783 303.5h4M787 302.5h4M791 301.5h2M792 301.5h42M875.5 219v1M874.5 220v2M873.5 222v2M872.5 224v2M871.5 226v2M870.5 228v2M869.5 230v2M868.5 232v2M867.5 234v2M866.5 236v2M865.5 238v2M864.5 240v2M863.5 242v2M862.5 244v2M861.5 246v2M860.5 248v2M859.5 250v2M858.5 252v2M857.5 254v2M856.5 256v2M855.5 258v2M854.5 260v1M853.5 261v2M852.5 263v2M851.5 265v2M850.5 267v2M849.5 269v2M848.5 271v2M847.5 273v2M846.5 275v2M845.5 277v2M844.5 279v2M843.5 281v2M842.5 283v2M841.5 285v2M840.5 287v2M839.5 289v2M838.5 291v2M837.5 293v2M836.5 295v2M835.5 297v2M834.5 299v2M833.5 301v1M916.5 105v2M915.5 107v3M914.5 110v2M913.5 112v3M912.5 115v3M911.5 118v3M910.5 121v3M909.5 124v2M908.5 126v3M907.5 129v3M906.5 132v3M905.5 135v2M904.5 137v3M903.5 140v3M902.5 143v3M901.5 146v3M900.5 149v2M899.5 151v3M898.5 154v3M897.5 157v3M896.5 160v3M895.5 163v2M894.5 165v3M893.5 168v3M892.5 171v3M891.5 174v2M890.5 176v3M889.5 179v3M888.5 182v3M887.5 185v3M886.5 188v2M885.5 190v3M884.5 193v3M883.5 196v3M882.5 199v2M881.5 201v3M880.5 204v3M879.5 207v3M878.5 210v3M877.5 213v2M876.5 215v3M875.5 218v2M916 105.5h43"/>
<path fill="#808000" d="M85 564h2v-1h1v1h2v2h1v1h-1v2h-2v1h-1v-1h-2v-2h-1v-1h1z M127 564h2v-1h1v1h2v2h1v1h-1v2h-2v1h-1v-1h-2v-2h-1v-1h1z M168 564h2v-1h1v1h2v2h1v1h-1v2h-2v1h-1v-1h-2v-2h-1v-1h1z M210 564h2v-1h1v1h2v2h1v1h-1v2h-2v1h-1v-1h-2v-2h-1v-1h1z M251 521h2v-1h1v1h2v2h1v1h-1v2h-2v1h-1v-1h-2v-2h-1v-1h1z M293 496h2v-1h1v1h2v2h1v1h-1v2h-2v1h-1v-1h-2v-2h-1v-1h1z M334 501h2v-1h1v1h2v2h1v1h-1v2h-2v1h-1v-1h-2v-2h-1v-1h1z M375 492h2v-1h1v1h2v2h1v1h-1v2h-2v1h-1v-1h-2v-2h-1v-1h1z M417 474h2v-1h1v1h2v2h1v1h-1v2h-2v1h-1v-1h-2v-2h-1v-1h1z M458 451h2v-1h1v1h2v2h1v1h-1v2h-2v1h-1v-1h-2v-2h-1v-1h1z M500 439h2v-1h1v1h2v2h1v1h-1v2h-2v1h-1v-1h-2v-2h-1v-1h1z M541 431h2v-1h1v1h2v2h1v1h-1v2h-2v1h-1v-1h-2v-2h-1v-1h1z M583 408h2v-1h1v1h2v2h1v1h-1v2h-2v1h-1v-1h-2v-2h-1v-1h1z M624 390h2v-1h1v1h2v2h1v1h-1v2h-2v1h-1v-1h-2v-2h-1v-1h1z M666 369h2v-1h1v1h2v2h1v1h-1v2h-2v1h-1v-1h-2v-2h-1v-1h1z M707 340h2v-1h1v1h2v2h1v1h-1v2h-2v1h-1v-1h-2v-2h-1v-1h1z M748 310h2v-1h1v1h2v2h1v1h-1v2h-2v1h-1v-1h-2v-2h-1v-1h1z M790 299h2v-1h1v1h2v2h1v1h-1v2h-2v1h-1v-1h-2v-2h-1v-1h1z M831 299h2v-1h1v1h2v2h1v1h-1v2h-2v1h-1v-1h-2v-2h-1v-1h1z M873 217h2v-1h1v1h2v2h1v1h-1v2h-2v1h-1v-1h-2v-2h-1v-1h1z M914 103h2v-1h1v1h2v2h1v1h-1v2h-2v1h-1v-1h-2v-2h-1v-1h1z M956 103h2v-1h1v1h2v2h1v1h-1v2h-2v1h-1v-1h-2v-2h-1v-1h1z"/>
</g>
<g shape-rendering="crispEdges">
<path fill="none" stroke="#ff00ff" stroke-width="1" d="M253 473.5h4M257 474.5h7M264 475.5h7M271 476.5h7M278 477.5h7M285 478.5h7M292 479.5h4M295 479.5h2M297 478.5h4M301 477.5h3M304 476.5h3M307 475.5h4M311 474.5h3M314 473.5h4M318 472.5h3M321 471.5h4M325 470.5h3M328 469.5h3M331 468.5h4M335 467.5h2M336 467.5h4M340 466.5h7M347 465.5h7M354 464.5h6M360 463.5h7M367 462.5h7M374 461.5h4M377 461.5h2M379 460.5h2M381 459.5h2M383 458.5h3M386 457.5h2M388 456.5h2M390 455.5h3M393 454.5h2M395 453.5h2M397 452.5h3M400 451.5h2M402 450.5h2M404 449.5h3M407 448.5h2M409 447.5h2M411 446.5h3M414 445.5h2M416 444.5h2M418 443.5h2M419 443.5h1M420 442.5h2M422 441.5h2M424 440.5h2M426 439.5h2M428 438.5h2M430 437.5h2M432 436.5h2M434 435.5h2M436 434.5h2M438 433.5h2M440 432.5h2M442 431.5h2M444 430.5h2M446 429.5h2M448 428.5h2M450 427.5h2M452 426.5h2M454 425.5h2M456 424.5h2M458 423.5h2M460 422.5h1M460 422.5h2M462 421.5h3M465 420.5h3M468 419.5h3M471 418.5h3M474 417.5h3M477 416.5h3M480 415.5h3M483 414.5h3M486 413.5h3M489 412.5h3M492 411.5h3M495 410.5h3M498 409.5h3M501 408.5h2M502 408.5h2M504 407.5h3M507 406.5h3M510 405.5h3M513 404.5h3M516 403.5h3M519 402.5h3M522 401.5h2M524 400.5h3M527 399.5h3M530 398.5h3M533 397.5h3M536 396.5h3M539 395.5h3M542 394.5h2M543 394.5h1M544 393.5h2M546 392.5h2M548 391.5h2M550 390.5h2M552 389.5h2M554 388.5h2M556 387.5h2M558 386.5h2M560 385.5h2M562 384.5h2M564 383.5h1M565 382.5h2M567 381.5h2M569 380.5h2M571 379.5h2M573 378.5h2M575 377.5h2M577 376.5h2M579 375.5h2M581 374.5h2M583 373.5h2M585 372.5h1M585 372.5h2M587 371.5h3M590 370.5h3M593 369.5h4M597 368.5h3M600 367.5h3M603 366.5h3M606 365.5h3M609 364.5h3M612 363.5h3M615 362.5h4M619 361.5h3M622 360.5h3M625 359.5h2M626 359.5h1M627 358.5h2M629 357.5h2M631 356.5h1M632 355.5h2M634 354.5h2M636 353.5h1M637 352.5h2M639 351.5h2M641 350.5h1M642 349.5h2M644 348.5h2M646 347.5h2M648 346.5h1M649 345.5h2M651 344.5h2M653 343.5h1M654 342.5h2M656 341.5h2M658 340.5h1M659 339.5h2M661 338.5h2M663 337.5h1M664 336.5h2M666 335.5h2M668 334.5h1M668 334.5h1M669 333.5h2M671 332.5h2M673 331.5h1M674 330.5h2M676 329.5h2M678 328.5h2M680 327.5h1M681 326.5h2M683 325.5h2M685 324.5h1M686 323.5h2M688 322.5h2M690 321.5h2M692 320.5h1M693 319.5h2M695 318.5h2M697 317.5h1M698 316.5h2M700 315.5h2M702 314.5h2M704 313.5h1M705 312.5h2M707 311.5h2M709 310.5h1M709 310.5h1M710 309.5h2M712 308.5h2M714 307.5h1M715 306.5h2M717 305.5h2M719 304.5h1M720 303.5h2M722 302.5h1M723 301.5h2M725 300.5h2M727 299.5h1M728 298.5h2M730 297.5h2M732 296.5h1M733 295.5h2M735 294.5h2M737 293.5h1M738 292.5h2M740 291.5h1M741 290.5h2M743 289.5h2M745 288.5h1M746 287.5h2M748 286.5h2M750 285.5h1M750 285.5h2M752 284.5h3M755 283.5h4M759 282.5h3M762 281.5h3M765 280.5h3M768 279.5h4M772 278.5h3M775 277.5h3M778 276.5h3M781 275.5h3M784 274.5h4M788 273.5h3M791 272.5h2M792 272.5h42M833 272.5h1M834 273.5h2M836 274.5h2M838 275.5h2M840 276.5h2M842 277.5h2M844 278.5h2M846 279.5h2M848 280.5h2M850 281.5h2M852 282.5h2M854 283.5h1M855 284.5h2M857 285.5h2M859 286.5h2M861 287.5h2M863 288.5h2M865 289.5h2M867 290.5h2M869 291.5h2M871 292.5h2M873 293.5h2M875 294.5h1M916.5 245v1M915.5 246v1M914.5 247v1M913.5 248v2M912.5 250v1M911.5 251v1M910.5 252v1M909.5 253v1M908.5 254v2M907.5 256v1M906.5 257v1M905.5 258v1M904.5 259v1M903.5 260v2M902.5 262v1M901.5 263v1M900.5 264v1M899.5 265v1M898.5 266v2M897.5 268v1M896.5 269v1M895.5 270v1M894.5 271v1M893.5 272v2M892.5 274v1M891.5 275v1M890.5 276v1M889.5 277v1M888.5 278v2M887.5 280v1M886.5 281v1M885.5 282v1M884.5 283v1M883.5 284v2M882.5 286v1M881.5 287v1M880.5 288v1M879.5 289v1M878.5 290v2M877.5 292v1M876.5 293v1M875.5 294v1M958.5 128v2M957.5 130v3M956.5 133v2M955.5 135v3M954.5 138v3M953.5 141v3M952.5 144v3M951.5 147v2M950.5 149v3M949.5 152v3M948.5 155v3M947.5 158v3M946.5 161v2M945.5 163v3M944.5 166v3M943.5 169v3M942.5 172v2M941.5 174v3M940.5 177v3M939.5 180v3M938.5 183v3M937.5 186v2M936.5 188v3M935.5 191v3M934.5 194v3M933.5 197v3M932.5 200v2M931.5 202v3M930.5 205v3M929.5 208v3M928.5 211v2M927.5 213v3M926.5 216v3M925.5 219v3M924.5 222v3M923.5 225v2M922.5 227v3M921.5 230v3M920.5 233v3M919.5 236v3M918.5 239v2M917.5 241v3M916.5 244v2"/>
<path fill="#ff00ff" d="M251 471h2v-1h1v1h2v2h1v1h-1v2h-2v1h-1v-1h-2v-2h-1v-1h1z M293 477h2v-1h1v1h2v2h1v1h-1v2h-2v1h-1v-1h-2v-2h-1v-1h1z M334 465h2v-1h1v1h2v2h1v1h-1v2h-2v1h-1v-1h-2v-2h-1v-1h1z M375 459h2v-1h1v1h2v2h1v1h-1v2h-2v1h-1v-1h-2v-2h-1v-1h1z M417 441h2v-1h1v1h2v2h1v1h-1v2h-2v1h-1v-1h-2v-2h-1v-1h1z M458 420h2v-1h1v1h2v2h1v1h-1v2h-2v1h-1v-1h-2v-2h-1v-1h1z M500 406h2v-1h1v1h2v2h1v1h-1v2h-2v1h-1v-1h-2v-2h-1v-1h1z M541 392h2v-1h1v1h2v2h1v1h-1v2h-2v1h-1v-1h-2v-2h-1v-1h1z M583 370h2v-1h1v1h2v2h1v1h-1v2h-2v1h-1v-1h-2v-2h-1v-1h1z M624 357h2v-1h1v1h2v2h1v1h-1v2h-2v1h-1v-1h-2v-2h-1v-1h1z M666 332h2v-1h1v1h2v2h1v1h-1v2h-2v1h-1v-1h-2v-2h-1v-1h1z M707 308h2v-1h1v1h2v2h1v1h-1v2h-2v1h-1v-1h-2v-2h-1v-1h1z M748 283h2v-1h1v1h2v2h1v1h-1v2h-2v1h-1v-1h-2v-2h-1v-1h1z M790 270h2v-1h1v1h2v2h1v1h-1v2h-2v1h-1v-1h-2v-2h-1v-1h1z M831 270h2v-1h1v1h2v2h1v1h-1v2h-2v1h-1v-1h-2v-2h-1v-1h1z M873 292h2v-1h1v1h2v2h1v1h-1v2h-2v1h-1v-1h-2v-2h-1v-1h1z M914 243h2v-1h1v1h2v2h1v1h-1v2h-2v1h-1v-1h-2v-2h-1v-1h1z M956 126h2v-1h1v1h2v2h1v1h-1v2h-2v1h-1v-1h-2v-2h-1v-1h1z"/>
</g>
<g shape-rendering="crispEdges">
<path fill="none" stroke="#00ffff" stroke-width="1" d="M87 567.5h43M129 567.5h42M170 567.5h43M253.5 507v1M252.5 508v2M251.5 510v1M250.5 511v2M249.5 513v1M248.5 514v2M247.5 516v1M246.5 517v1M245.5 518v2M244.5 520v1M243.5 521v2M242.5 523v1M241.5 524v2M240.5 526v1M239.5 527v2M238.5 529v1M237.5 530v2M236.5 532v1M235.5 533v2M234.5 535v1M233.5 536v2M232.5 538v1M231.5 539v1M230.5 540v2M229.5 542v1M228.5 543v2M227.5 545v1M226.5 546v2M225.5 548v1M224.5 549v2M223.5 551v1M222.5 552v2M221.5 554v1M220.5 555v2M219.5 557v1M218.5 558v1M217.5 559v2M216.5 561v1M215.5 562v2M214.5 564v1M213.5 565v2M212.5 567v1M253 507.5h1M254 506.5h1M255 505.5h2M257 504.5h1M258 503.5h1M259 502.5h1M260 501.5h2M262 500.5h1M263 499.5h1M264 498.5h1M265 497.5h1M266 496.5h2M268 495.5h1M269 494.5h1M270 493.5h1M271 492.5h2M273 491.5h1M274 490.5h1M275 489.5h1M276 488.5h2M278 487.5h1M279 486.5h1M280 485.5h1M281 484.5h2M283 483.5h1M284 482.5h1M285 481.5h1M286 480.5h1M287 479.5h2M289 478.5h1M290 477.5h1M291 476.5h1M292 475.5h2M294 474.5h1M295 473.5h1M295 473.5h3M298 472.5h6M304 471.5h6M310 470.5h6M316 469.5h6M322 468.5h6M328 467.5h6M334 466.5h3M336 466.5h2M338 467.5h2M340 468.5h3M343 469.5h2M345 470.5h3M348 471.5h3M351 472.5h2M353 473.5h3M356 474.5h2M358 475.5h3M361 476.5h2M363 477.5h3M366 478.5h3M369 479.5h2M371 480.5h3M374 481.5h2M376 482.5h2M377 482.5h2M379 481.5h2M381 480.5h2M383 479.5h3M386 478.5h2M388 477.5h2M390 476.5h3M393 475.5h2M395 474.5h2M397 473.5h3M400 472.5h2M402 471.5h2M404 470.5h3M407 469.5h2M409 468.5h2M411 467.5h3M414 466.5h2M416 465.5h2M418 464.5h2M419 464.5h2M421 463.5h2M423 462.5h2M425 461.5h2M427 460.5h3M430 459.5h2M432 458.5h2M434 457.5h3M437 456.5h2M439 455.5h2M441 454.5h2M443 453.5h3M446 452.5h2M448 451.5h2M450 450.5h3M453 449.5h2M455 448.5h2M457 447.5h2M459 446.5h2M460 446.5h1M461 445.5h2M463 444.5h1M464 443.5h1M465 442.5h2M467 441.5h1M468 440.5h2M470 439.5h1M471 438.5h1M472 437.5h2M474 436.5h1M475 435.5h2M477 434.5h1M478 433.5h1M479 432.5h2M481 431.5h1M482 430.5h2M484 429.5h1M485 428.5h1M486 427.5h2M488 426.5h1M489 425.5h2M491 424.5h1M492 423.5h1M493 422.5h2M495 421.5h1M496 420.5h2M498 419.5h1M499 418.5h1M500 417.5h2M502 416.5h1M502 416.5h2M504 415.5h2M506 414.5h3M509 413.5h2M511 412.5h3M514 411.5h3M517 410.5h2M519 409.5h3M522 408.5h2M524 407.5h3M527 406.5h2M529 405.5h3M532 404.5h3M535 403.5h2M537 402.5h3M540 401.5h2M542 400.5h2M585.5 356v1M584.5 357v1M583.5 358v1M582.5 359v1M581.5 360v1M580.5 361v1M579.5 362v1M578.5 363v1M577.5 364v1M576.5 365v1M575.5 366v2M574.5 368v1M573.5 369v1M572.5 370v1M571.5 371v1M570.5 372v1M569.5 373v1M568.5 374v1M567.5 375v1M566.5 376v1M565.5 377v1M564.5 378v1M563.5 379v1M562.5 380v1M561.5 381v1M560.5 382v1M559.5 383v1M558.5 384v1M557.5 385v1M556.5 386v1M555.5 387v1M554.5 388v2M553.5 390v1M552.5 391v1M551.5 392v1M550.5 393v1M549.5 394v1M548.5 395v1M547.5 396v1M546.5 397v1M545.5 398v1M544.5 399v1M543.5 400v1M585 356.5h2M587 355.5h2M589 354.5h3M592 353.5h2M594 352.5h3M597 351.5h3M600 350.5h2M602 349.5h3M605 348.5h2M607 347.5h3M610 346.5h2M612 345.5h3M615 344.5h3M618 343.5h2M620 342.5h3M623 341.5h2M625 340.5h2M626 340.5h2M628 339.5h2M630 338.5h2M632 337.5h2M634 336.5h2M636 335.5h3M639 334.5h2M641 333.5h2M643 332.5h2M645 331.5h3M648 330.5h2M650 329.5h2M652 328.5h2M654 327.5h2M656 326.5h3M659 325.5h2M661 324.5h2M663 323.5h2M665 322.5h2M667 321.5h2M668 321.5h1M669 320.5h2M671 319.5h1M672 318.5h2M674 317.5h1M675 316.5h2M677 315.5h1M678 314.5h1M679 313.5h2M681 312.5h1M682 311.5h2M684 310.5h1M685 309.5h2M687 308.5h1M688 307.5h2M690 306.5h1M691 305.5h2M693 304.5h1M694 303.5h2M696 302.5h1M697 301.5h2M699 300.5h1M700 299.5h1M701 298.5h2M703 297.5h1M704 296.5h2M706 295.5h1M707 294.5h2M709 293.5h1M709 293.5h1M710 292.5h2M712 291.5h1M713 290.5h2M715 289.5h1M716 288.5h2M718 287.5h1M719 286.5h2M721 285.5h1M722 284.5h2M724 283.5h1M725 282.5h2M727 281.5h1M728 280.5h2M730 279.5h2M732 278.5h1M733 277.5h2M735 276.5h1M736 275.5h2M738 274.5h1M739 273.5h2M741 272.5h1M742 271.5h2M744 270.5h1M745 269.5h2M747 268.5h1M748 267.5h2M750 266.5h1M750 266.5h2M752 265.5h3M755 264.5h4M759 263.5h3M762 262.5h3M765 261.5h3M768 260.5h4M772 259.5h3M775 258.5h3M778 257.5h3M781 256.5h3M784 255.5h4M788 254.5h3M791 253.5h2M792 253.5h42M833 253.5h1M834 252.5h2M836 251.5h2M838 250.5h1M839 249.5h2M841 248.5h2M843 247.5h1M844 246.5h2M846 245.5h2M848 244.5h1M849 243.5h2M851 242.5h2M853 241.5h2M855 240.5h1M856 239.5h2M858 238.5h2M860 237.5h1M861 236.5h2M863 235.5h2M865 234.5h1M866 233.5h2M868 232.5h2M870 231.5h1M871 230.5h2M873 229.5h2M875 228.5h1M916.5 144v2M915.5 146v2M914.5 148v2M913.5 150v2M912.5 152v2M911.5 154v2M910.5 156v2M909.5 158v2M908.5 160v2M907.5 162v2M906.5 164v2M905.5 166v2M904.5 168v2M903.5 170v2M902.5 172v2M901.5 174v2M900.5 176v2M899.5 178v2M898.5 180v2M897.5 182v2M896.5 184v3M895.5 187v2M894.5 189v2M893.5 191v2M892.5 193v2M891.5 195v2M890.5 197v2M889.5 199v2M888.5 201v2M887.5 203v2M886.5 205v2M885.5 207v2M884.5 209v2M883.5 211v2M882.5 213v2M881.5 215v2M880.5 217v2M879.5 219v2M878.5 221v2M877.5 223v2M876.5 225v2M875.5 227v2M958.5 38v2M957.5 40v2M956.5 42v3M955.5 45v2M954.5 47v3M953.5 50v2M952.5 52v3M951.5 55v2M950.5 57v3M949.5 60v2M948.5 62v3M947.5 65v3M946.5 68v2M945.5 70v3M944.5 73v2M943.5 75v3M942.5 78v2M941.5 80v3M940.5 83v2M939.5 85v3M938.5 88v2M937.5 90v3M936.5 93v2M935.5 95v3M934.5 98v2M933.5 100v3M932.5 103v2M931.5 105v3M930.5 108v2M929.5 110v3M928.5 113v2M927.5 115v3M926.5 118v3M925.5 121v2M924.5 123v3M923.5 126v2M922.5 128v3M921.5 131v2M920.5 133v3M919.5 136v2M918.5 138v3M917.5 141v2M916.5 143v2"/>
<path fill="#00ffff" d="M85 565h2v-1h1v1h2v2h1v1h-1v2h-2v1h-1v-1h-2v-2h-1v-1h1z M127 565h2v-1h1v1h2v2h1v1h-1v2h-2v1h-1v-1h-2v-2h-1v-1h1z M168 565h2v-1h1v1h2v2h1v1h-1v2h-2v1h-1v-1h-2v-2h-1v-1h1z M210 565h2v-1h1v1h2v2h1v1h-1v2h-2v1h-1v-1h-2v-2h-1v-1h1z M251 505h2v-1h1v1h2v2h1v1h-1v2h-2v1h-1v-1h-2v-2h-1v-1h1z M293 471h2v-1h1v1h2v2h1v1h-1v2h-2v1h-1v-1h-2v-2h-1v-1h1z M334 464h2v-1h1v1h2v2h1v1h-1v2h-2v1h-1v-1h-2v-2h-1v-1h1z M375 480h2v-1h1v1h2v2h1v1h-1v2h-2v1h-1v-1h-2v-2h-1v-1h1z M417 462h2v-1h1v1h2v2h1v1h-1v2h-2v1h-1v-1h-2v-2h-1v-1h1z M458 444h2v-1h1v1h2v2h1v1h-1v2h-2v1h-1v-1h-2v-2h-1v-1h1z M500 414h2v-1h1v1h2v2h1v1h-1v2h-2v1h-1v-1h-2v-2h-1v-1h1z M541 398h2v-1h1v1h2v2h1v1h-1v2h-2v1h-1v-1h-2v-2h-1v-1h1z M583 354h2v-1h1v1h2v2h1v1h-1v2h-2v1h-1v-1h-2v-2h-1v-1h1z M624 338h2v-1h1v1h2v2h1v1h-1v2h-2v1h-1v-1h-2v-2h-1v-1h1z M666 319h2v-1h1v1h2v2h1v1h-1v2h-2v1h-1v-1h-2v-2h-1v-1h1z M707 291h2v-1h1v1h2v2h1v1h-1v2h-2v1h-1v-1h-2v-2h-1v-1h1z M748 264h2v-1h1v1h2v2h1v1h-1v2h-2v1h-1v-1h-2v-2h-1v-1h1z M790 251h2v-1h1v1h2v2h1v1h-1v2h-2v1h-1v-1h-2v-2h-1v-1h1z M831 251h2v-1h1v1h2v2h1v1h-1v2h-2v1h-1v-1h-2v-2h-1v-1h1z M873 226h2v-1h1v1h2v2h1v1h-1v2h-2v1h-1v-1h-2v-2h-1v-1h1z M914 142h2v-1h1v1h2v2h1v1h-1v2h-2v1h-1v-1h-2v-2h-1v-1h1z M956 36h2v-1h1v1h2v2h1v1h-1v2h-2v1h-1v-1h-2v-2h-1v-1h1z"/>
</g>
<text transform="translate(74.1,507) scale(0.86,1)" class="n">25364</text>
<text transform="translate(116.1,507) scale(0.86,1)" class="n">25364</text>
<text transform="translate(157.1,522) scale(0.86,1)" class="n">24767</text>
<text transform="translate(199.1,522) scale(0.86,1)" class="n">24767</text>
<text transform="translate(240.1,487) scale(0.86,1)" class="n">26156</text>
<text transform="translate(282.1,467) scale(0.86,1)" class="n">26957</text>
<text transform="translate(323.1,459) scale(0.86,1)" class="n">27264</text>
<text transform="translate(364.1,453) scale(0.86,1)" class="n">27506</text>
<text transform="translate(406.1,413) scale(0.86,1)" class="n">29107</text>
<text transform="translate(447.1,395) scale(0.86,1)" class="n">29810</text>
<text transform="translate(489.1,368) scale(0.86,1)" class="n">30893</text>
<text transform="translate(530.1,351) scale(0.86,1)" class="n">31598</text>
<text transform="translate(572.1,331) scale(0.86,1)" class="n">32366</text>
<text transform="translate(613.1,312) scale(0.86,1)" class="n">33126</text>
<text transform="translate(655.1,288) scale(0.86,1)" class="n">34117</text>
<text transform="translate(696.1,261) scale(0.86,1)" class="n">35171</text>
<text transform="translate(737.1,252) scale(0.86,1)" class="n">35544</text>
<text transform="translate(779.1,241) scale(0.86,1)" class="n">35971</text>
<text transform="translate(820.1,225) scale(0.86,1)" class="n">36618</text>
<text transform="translate(862.1,225) scale(0.86,1)" class="n">36618</text>
<text transform="translate(903.1,108) scale(0.86,1)" class="n">41292</text>
<text transform="translate(945.1,77) scale(0.86,1)" class="n">42531</text>
<text transform="translate(74.1,501) scale(0.86,1)" class="n">25601</text>
<text transform="translate(116.1,501) scale(0.86,1)" class="n">25601</text>
<text transform="translate(157.1,501) scale(0.86,1)" class="n">25601</text>
<text transform="translate(199.1,482) scale(0.86,1)" class="n">26357</text>
<text transform="translate(240.1,482) scale(0.86,1)" class="n">26357</text>
<text transform="translate(282.1,449) scale(0.86,1)" class="n">27667</text>
<text transform="translate(323.1,441) scale(0.86,1)" class="n">27998</text>
<text transform="translate(364.1,440) scale(0.86,1)" class="n">28024</text>
<text transform="translate(406.1,421) scale(0.86,1)" class="n">28770</text>
<text transform="translate(447.1,391) scale(0.86,1)" class="n">29971</text>
<text transform="translate(489.1,369) scale(0.86,1)" class="n">30853</text>
<text transform="translate(530.1,353) scale(0.86,1)" class="n">31506</text>
<text transform="translate(572.1,328) scale(0.86,1)" class="n">32516</text>
<text transform="translate(613.1,302) scale(0.86,1)" class="n">33529</text>
<text transform="translate(655.1,283) scale(0.86,1)" class="n">34314</text>
<text transform="translate(696.1,255) scale(0.86,1)" class="n">35408</text>
<text transform="translate(737.1,205) scale(0.86,1)" class="n">37407</text>
<text transform="translate(779.1,192) scale(0.86,1)" class="n">37929</text>
<text transform="translate(820.1,192) scale(0.86,1)" class="n">37929</text>
<text transform="translate(862.1,146) scale(0.86,1)" class="n">39755</text>
<text transform="translate(903.1,146) scale(0.86,1)" class="n">39755</text>
<text transform="translate(945.1,19) scale(0.86,1)" class="n">44828</text>
<text transform="translate(74.1,523) scale(0.86,1)" class="n">24701</text>
<text transform="translate(116.1,523) scale(0.86,1)" class="n">24701</text>
<text transform="translate(157.1,523) scale(0.86,1)" class="n">24701</text>
<text transform="translate(199.1,523) scale(0.86,1)" class="n">24701</text>
<text transform="translate(240.1,516) scale(0.86,1)" class="n">25001</text>
<text transform="translate(282.1,516) scale(0.86,1)" class="n">25001</text>
<text transform="translate(323.1,514) scale(0.86,1)" class="n">25062</text>
<text transform="translate(364.1,502) scale(0.86,1)" class="n">25551</text>
<text transform="translate(406.1,490) scale(0.86,1)" class="n">26049</text>
<text transform="translate(447.1,477) scale(0.86,1)" class="n">26557</text>
<text transform="translate(489.1,457) scale(0.86,1)" class="n">27335</text>
<text transform="translate(530.1,437) scale(0.86,1)" class="n">28166</text>
<text transform="translate(572.1,414) scale(0.86,1)" class="n">29066</text>
<text transform="translate(613.1,381) scale(0.86,1)" class="n">30402</text>
<text transform="translate(655.1,343) scale(0.86,1)" class="n">31893</text>
<text transform="translate(696.1,311) scale(0.86,1)" class="n">33198</text>
<text transform="translate(737.1,277) scale(0.86,1)" class="n">34558</text>
<text transform="translate(779.1,256) scale(0.86,1)" class="n">35384</text>
<text transform="translate(820.1,256) scale(0.86,1)" class="n">35384</text>
<text transform="translate(862.1,269) scale(0.86,1)" class="n">34875</text>
<text transform="translate(903.1,269) scale(0.86,1)" class="n">34875</text>
<text transform="translate(945.1,130) scale(0.86,1)" class="n">40413</text>
<text transform="translate(74.1,561) scale(0.86,1)" class="n">23196</text>
<text transform="translate(116.1,561) scale(0.86,1)" class="n">23196</text>
<text transform="translate(157.1,561) scale(0.86,1)" class="n">23196</text>
<text transform="translate(199.1,561) scale(0.86,1)" class="n">23196</text>
<text transform="translate(240.1,518) scale(0.86,1)" class="n">24921</text>
<text transform="translate(282.1,493) scale(0.86,1)" class="n">25902</text>
<text transform="translate(323.1,498) scale(0.86,1)" class="n">25707</text>
<text transform="translate(364.1,489) scale(0.86,1)" class="n">26092</text>
<text transform="translate(406.1,471) scale(0.86,1)" class="n">26792</text>
<text transform="translate(447.1,448) scale(0.86,1)" class="n">27700</text>
<text transform="translate(489.1,436) scale(0.86,1)" class="n">28200</text>
<text transform="translate(530.1,428) scale(0.86,1)" class="n">28526</text>
<text transform="translate(572.1,405) scale(0.86,1)" class="n">29414</text>
<text transform="translate(613.1,387) scale(0.86,1)" class="n">30165</text>
<text transform="translate(655.1,366) scale(0.86,1)" class="n">30993</text>
<text transform="translate(696.1,337) scale(0.86,1)" class="n">32140</text>
<text transform="translate(737.1,307) scale(0.86,1)" class="n">33329</text>
<text transform="translate(779.1,296) scale(0.86,1)" class="n">33796</text>
<text transform="translate(820.1,296) scale(0.86,1)" class="n">33796</text>
<text transform="translate(862.1,214) scale(0.86,1)" class="n">37046</text>
<text transform="translate(903.1,100) scale(0.86,1)" class="n">41609</text>
<text transform="translate(945.1,100) scale(0.86,1)" class="n">41609</text>
<text transform="translate(240.1,468) scale(0.86,1)" class="n">26922</text>
<text transform="translate(282.1,474) scale(0.86,1)" class="n">26678</text>
<text transform="translate(323.1,462) scale(0.86,1)" class="n">27164</text>
<text transform="translate(364.1,456) scale(0.86,1)" class="n">27399</text>
<text transform="translate(406.1,438) scale(0.86,1)" class="n">28120</text>
<text transform="translate(447.1,417) scale(0.86,1)" class="n">28956</text>
<text transform="translate(489.1,403) scale(0.86,1)" class="n">29516</text>
<text transform="translate(530.1,389) scale(0.86,1)" class="n">30087</text>
<text transform="translate(572.1,367) scale(0.86,1)" class="n">30934</text>
<text transform="translate(613.1,354) scale(0.86,1)" class="n">31458</text>
<text transform="translate(655.1,329) scale(0.86,1)" class="n">32459</text>
<text transform="translate(696.1,305) scale(0.86,1)" class="n">33432</text>
<text transform="translate(737.1,280) scale(0.86,1)" class="n">34430</text>
<text transform="translate(779.1,267) scale(0.86,1)" class="n">34932</text>
<text transform="translate(820.1,267) scale(0.86,1)" class="n">34932</text>
<text transform="translate(862.1,289) scale(0.86,1)" class="n">34066</text>
<text transform="translate(903.1,240) scale(0.86,1)" class="n">36002</text>
<text transform="translate(945.1,123) scale(0.86,1)" class="n">40702</text>
<text transform="translate(74.1,562) scale(0.86,1)" class="n">23190</text>
<text transform="translate(116.1,562) scale(0.86,1)" class="n">23190</text>
<text transform="translate(157.1,562) scale(0.86,1)" class="n">23190</text>
<text transform="translate(199.1,562) scale(0.86,1)" class="n">23190</text>
<text transform="translate(240.1,502) scale(0.86,1)" class="n">25542</text>
<text transform="translate(282.1,468) scale(0.86,1)" class="n">26897</text>
<text transform="translate(323.1,461) scale(0.86,1)" class="n">27208</text>
<text transform="translate(364.1,477) scale(0.86,1)" class="n">26570</text>
<text transform="translate(406.1,459) scale(0.86,1)" class="n">27277</text>
<text transform="translate(447.1,441) scale(0.86,1)" class="n">28000</text>
<text transform="translate(489.1,411) scale(0.86,1)" class="n">29195</text>
<text transform="translate(530.1,395) scale(0.86,1)" class="n">29809</text>
<text transform="translate(572.1,351) scale(0.86,1)" class="n">31579</text>
<text transform="translate(613.1,335) scale(0.86,1)" class="n">32210</text>
<text transform="translate(655.1,316) scale(0.86,1)" class="n">32967</text>
<text transform="translate(696.1,288) scale(0.86,1)" class="n">34104</text>
<text transform="translate(737.1,261) scale(0.86,1)" class="n">35195</text>
<text transform="translate(779.1,248) scale(0.86,1)" class="n">35688</text>
<text transform="translate(820.1,248) scale(0.86,1)" class="n">35688</text>
<text transform="translate(862.1,223) scale(0.86,1)" class="n">36687</text>
<text transform="translate(903.1,139) scale(0.86,1)" class="n">40059</text>
<text transform="translate(945.1,33) scale(0.86,1)" class="n">44274</text>
<g shape-rendering="crispEdges"><rect x="102" y="594" width="13" height="2" fill="#ff0000"/><path fill="#ff0000" d="M106 593h2v-1h1v1h2v2h1v1h-1v2h-2v1h-1v-1h-2v-2h-1v-1h1z"/></g>
<text x="118" y="598" class="l" textLength="19" lengthAdjust="spacingAndGlyphs">Bund</text>
<g shape-rendering="crispEdges"><rect x="236" y="594" width="13" height="2" fill="#00ff00"/><path fill="#00ff00" d="M240 593h2v-1h1v1h2v2h1v1h-1v2h-2v1h-1v-1h-2v-2h-1v-1h1z"/></g>
<text x="252" y="598" class="l" textLength="29" lengthAdjust="spacingAndGlyphs">Bayern</text>
<g shape-rendering="crispEdges"><rect x="370" y="594" width="13" height="2" fill="#0000ff"/><path fill="#0000ff" d="M374 593h2v-1h1v1h2v2h1v1h-1v2h-2v1h-1v-1h-2v-2h-1v-1h1z"/></g>
<text x="386" y="598" class="l" textLength="29" lengthAdjust="spacingAndGlyphs">Berlin</text>
<g shape-rendering="crispEdges"><rect x="504" y="594" width="13" height="2" fill="#808000"/><path fill="#808000" d="M508 593h2v-1h1v1h2v2h1v1h-1v2h-2v1h-1v-1h-2v-2h-1v-1h1z"/></g>
<text x="520" y="598" class="l" textLength="54" lengthAdjust="spacingAndGlyphs">Brandenburg</text>
<g shape-rendering="crispEdges"><rect x="638" y="594" width="13" height="2" fill="#ff00ff"/><path fill="#ff00ff" d="M642 593h2v-1h1v1h2v2h1v1h-1v2h-2v1h-1v-1h-2v-2h-1v-1h1z"/></g>
<text x="654" y="598" class="l" textLength="109" lengthAdjust="spacingAndGlyphs">Mecklenburg-Vorpommern</text>
<g shape-rendering="crispEdges"><rect x="772" y="594" width="13" height="2" fill="#00ffff"/><path fill="#00ffff" d="M776 593h2v-1h1v1h2v2h1v1h-1v2h-2v1h-1v-1h-2v-2h-1v-1h1z"/></g>
<text x="788" y="598" class="l" textLength="34" lengthAdjust="spacingAndGlyphs">Sachsen</text>
</svg>
</body></html>
